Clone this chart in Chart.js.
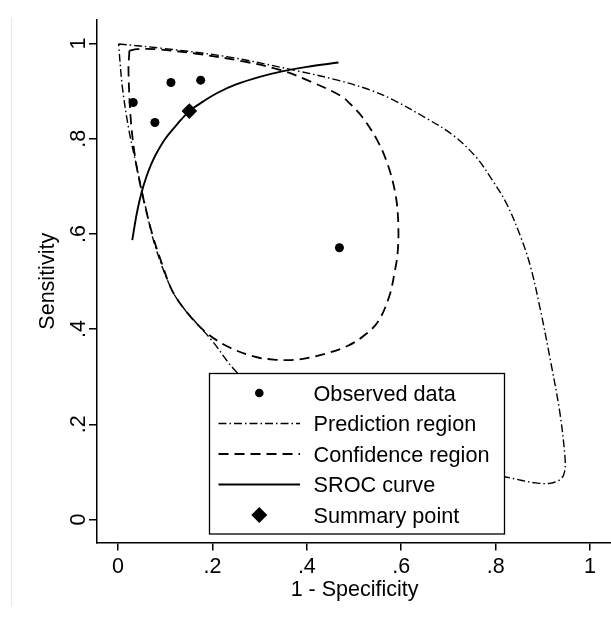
<!DOCTYPE html>
<html><head><meta charset="utf-8">
<script src="https://cdn.jsdelivr.net/npm/chart.js@4/dist/chart.umd.min.js"></script>
<style>
html,body{margin:0;padding:0;background:#fff;overflow:hidden;}
#wrap{width:611px;height:624px;overflow:hidden;position:relative;background:#fff;}
canvas{display:block;}
</style>
</head><body><div id="wrap"><canvas id="c" width="620" height="624"></canvas></div>
<script>
// ---- data ----
const tickValues = [0, 0.2, 0.4, 0.6, 0.8, 1];
const tickLabels = ["0", ".2", ".4", ".6", ".8", "1"];
const legendLabels = ["Observed data", "Prediction region", "Confidence region", "SROC curve", "Summary point"];

const obsX = [0.032, 0.112, 0.175, 0.078, 0.469];
const obsY = [0.876, 0.918, 0.923, 0.834, 0.571];

const summaryX = [0.151];
const summaryY = [0.858];

const srocX = [0.030, 0.040, 0.050, 0.060, 0.070, 0.080, 0.100, 0.125, 0.151, 0.180, 0.210, 0.250, 0.300, 0.350, 0.400, 0.467];
const srocY = [0.587, 0.645, 0.688, 0.720, 0.746, 0.767, 0.800, 0.830, 0.858, 0.878, 0.896, 0.914, 0.930, 0.942, 0.951, 0.960];

const confX = [0.024, 0.040, 0.079, 0.163, 0.268, 0.345, 0.408, 0.472, 0.491, 0.517, 0.549, 0.573, 0.589, 0.594, 0.592, 0.587, 0.575, 0.551, 0.522, 0.487, 0.442, 0.400, 0.366, 0.330, 0.289, 0.233, 0.184, 0.142, 0.114, 0.092, 0.072, 0.051, 0.037, 0.027, 0.022, 0.024];
const confY = [0.985, 0.988, 0.988, 0.979, 0.962, 0.944, 0.920, 0.890, 0.874, 0.846, 0.797, 0.741, 0.676, 0.610, 0.556, 0.525, 0.470, 0.416, 0.387, 0.365, 0.349, 0.339, 0.335, 0.336, 0.342, 0.363, 0.395, 0.440, 0.482, 0.540, 0.601, 0.685, 0.755, 0.839, 0.944, 0.985];

const predX = [0.001, 0.093, 0.233, 0.373, 0.465, 0.535, 0.584, 0.653, 0.709, 0.758, 0.793, 0.823, 0.853, 0.874, 0.895, 0.915, 0.936, 0.947, 0.946, 0.938, 0.915, 0.884, 0.856, 0.814, 0.750, 0.650, 0.550, 0.450, 0.360, 0.290, 0.250, 0.198, 0.163, 0.142, 0.114, 0.079, 0.058, 0.041, 0.023, 0.009, 0.001];
const predY = [0.999, 0.990, 0.972, 0.944, 0.923, 0.902, 0.881, 0.843, 0.808, 0.762, 0.713, 0.664, 0.594, 0.531, 0.440, 0.340, 0.225, 0.130, 0.100, 0.085, 0.076, 0.077, 0.082, 0.091, 0.103, 0.127, 0.157, 0.196, 0.240, 0.283, 0.311, 0.377, 0.416, 0.440, 0.482, 0.573, 0.657, 0.734, 0.818, 0.909, 0.999];

// ---- build ----
const pts = (xs, ys) => xs.map((x, i) => ({x: x, y: ys[i]}));
const FONT = "'Liberation Sans', Arial, Helvetica, sans-serif";
const DASH_PRED = [8, 3, 1.5, 3];
const DASH_CONF = [10, 6];

const legendPlugin = {
  id: 'stataLegend',
  beforeDraw(chart) {
    const ctx = chart.ctx;
    ctx.save();
    ctx.strokeStyle = '#e4eaed';
    ctx.lineWidth = 1;
    ctx.beginPath(); ctx.moveTo(11.5, 18); ctx.lineTo(11.5, 606); ctx.stroke();
    ctx.restore();
  },
  afterDraw(chart) {
    const ctx = chart.ctx;
    ctx.save();
    const bx = 209.5, by = 373.5, bw = 295, bh = 160.5;
    ctx.fillStyle = '#fff';
    ctx.fillRect(bx, by, bw, bh);
    ctx.strokeStyle = '#000';
    ctx.lineWidth = 1.3;
    ctx.strokeRect(bx, by, bw, bh);
    const rows = [393, 423.5, 454, 484.5, 515];
    const sx0 = 218.5, sx1 = 300, sc = 259.3, tx = 313.5;
    ctx.fillStyle = '#000';
    ctx.font = "21.7px " + FONT;
    ctx.textBaseline = 'alphabetic';
    ctx.textAlign = 'left';
    legendLabels.forEach((t, i) => ctx.fillText(t, tx, rows[i] + 7.8));
    // symbols
    ctx.beginPath(); ctx.arc(sc, rows[0], 4.3, 0, Math.PI * 2); ctx.fill();
    ctx.lineWidth = 1.6;
    ctx.setLineDash(DASH_PRED);
    ctx.beginPath(); ctx.moveTo(sx0, rows[1]); ctx.lineTo(sx1, rows[1]); ctx.stroke();
    ctx.setLineDash(DASH_CONF);
    ctx.lineWidth = 1.8;
    ctx.beginPath(); ctx.moveTo(sx0, rows[2]); ctx.lineTo(sx1, rows[2]); ctx.stroke();
    ctx.setLineDash([]);
    ctx.beginPath(); ctx.moveTo(sx0, rows[3]); ctx.lineTo(sx1, rows[3]); ctx.stroke();
    const r = 8;
    ctx.beginPath(); ctx.moveTo(sc, rows[4] - r); ctx.lineTo(sc + r, rows[4]); ctx.lineTo(sc, rows[4] + r); ctx.lineTo(sc - r, rows[4]); ctx.closePath(); ctx.fill();
    ctx.restore();
  }
};

const tickCb = (v) => { const i = tickValues.findIndex(t => Math.abs(t - v) < 1e-9); return i >= 0 ? tickLabels[i] : ''; };

new Chart(document.getElementById('c'), {
  type: 'scatter',
  data: {
    datasets: [
      { label: legendLabels[0], data: pts(obsX, obsY), showLine: false, pointRadius: 4.5, pointBackgroundColor: '#000', pointBorderWidth: 0, pointStyle: 'circle' },
      { label: legendLabels[4], data: pts(summaryX, summaryY), showLine: false, pointRadius: 7.8, pointBackgroundColor: '#000', pointBorderWidth: 0, pointStyle: 'rectRot' },
      { label: legendLabels[3], data: pts(srocX, srocY), showLine: true, pointRadius: 0, borderColor: '#000', borderWidth: 1.9, tension: 0.35, fill: false },
      { label: legendLabels[2], data: pts(confX, confY), showLine: true, pointRadius: 0, borderColor: '#000', borderWidth: 1.8, borderDash: DASH_CONF, tension: 0.35, fill: false },
      { label: legendLabels[1], data: pts(predX, predY), showLine: true, pointRadius: 0, borderColor: '#000', borderWidth: 1.4, borderDash: DASH_PRED, tension: 0.35, fill: false }
    ]
  },
  options: {
    responsive: false,
    animation: false,
    devicePixelRatio: 1,
    events: [],
    layout: { padding: { top: 20, right: 2.3, bottom: 0, left: 0 } },
    plugins: { legend: { display: false }, tooltip: { enabled: false } },
    scales: {
      x: {
        type: 'linear', min: -0.0447, max: 1.047,
        afterBuildTicks: (s) => { s.ticks = tickValues.map(v => ({value: v})); },
        afterFit: (s) => { s.height = 81.5; },
        border: { display: true, color: '#000', width: 1.5 },
        grid: { display: true, drawOnChartArea: false, drawTicks: true, tickLength: 8, color: '#000', lineWidth: 1.5 },
        ticks: { callback: tickCb, color: '#000', font: { family: FONT, size: 21.5 }, padding: 4, maxRotation: 0, minRotation: 0, autoSkip: false },
        title: { display: true, text: '1 - Specificity', color: '#000', font: { family: FONT, size: 21.5 }, padding: { top: 0, bottom: 21.5 } }
      },
      y: {
        type: 'linear', min: -0.0483, max: 1.0494,
        afterBuildTicks: (s) => { s.ticks = tickValues.map(v => ({value: v})); },
        afterFit: (s) => { s.width = 97; },
        border: { display: true, color: '#000', width: 1.5 },
        grid: { display: true, drawOnChartArea: false, drawTicks: true, tickLength: 8, color: '#000', lineWidth: 1.5 },
        ticks: { callback: tickCb, color: '#000', font: { family: FONT, size: 21.5 }, padding: 1, minRotation: 90, maxRotation: 90, crossAlign: 'center', autoSkip: false },
        title: { display: true, text: 'Sensitivity', color: '#000', font: { family: FONT, size: 21.5 }, padding: { top: 35, bottom: 0 } }
      }
    }
  },
  plugins: [legendPlugin]
});
</script>
</body></html>
